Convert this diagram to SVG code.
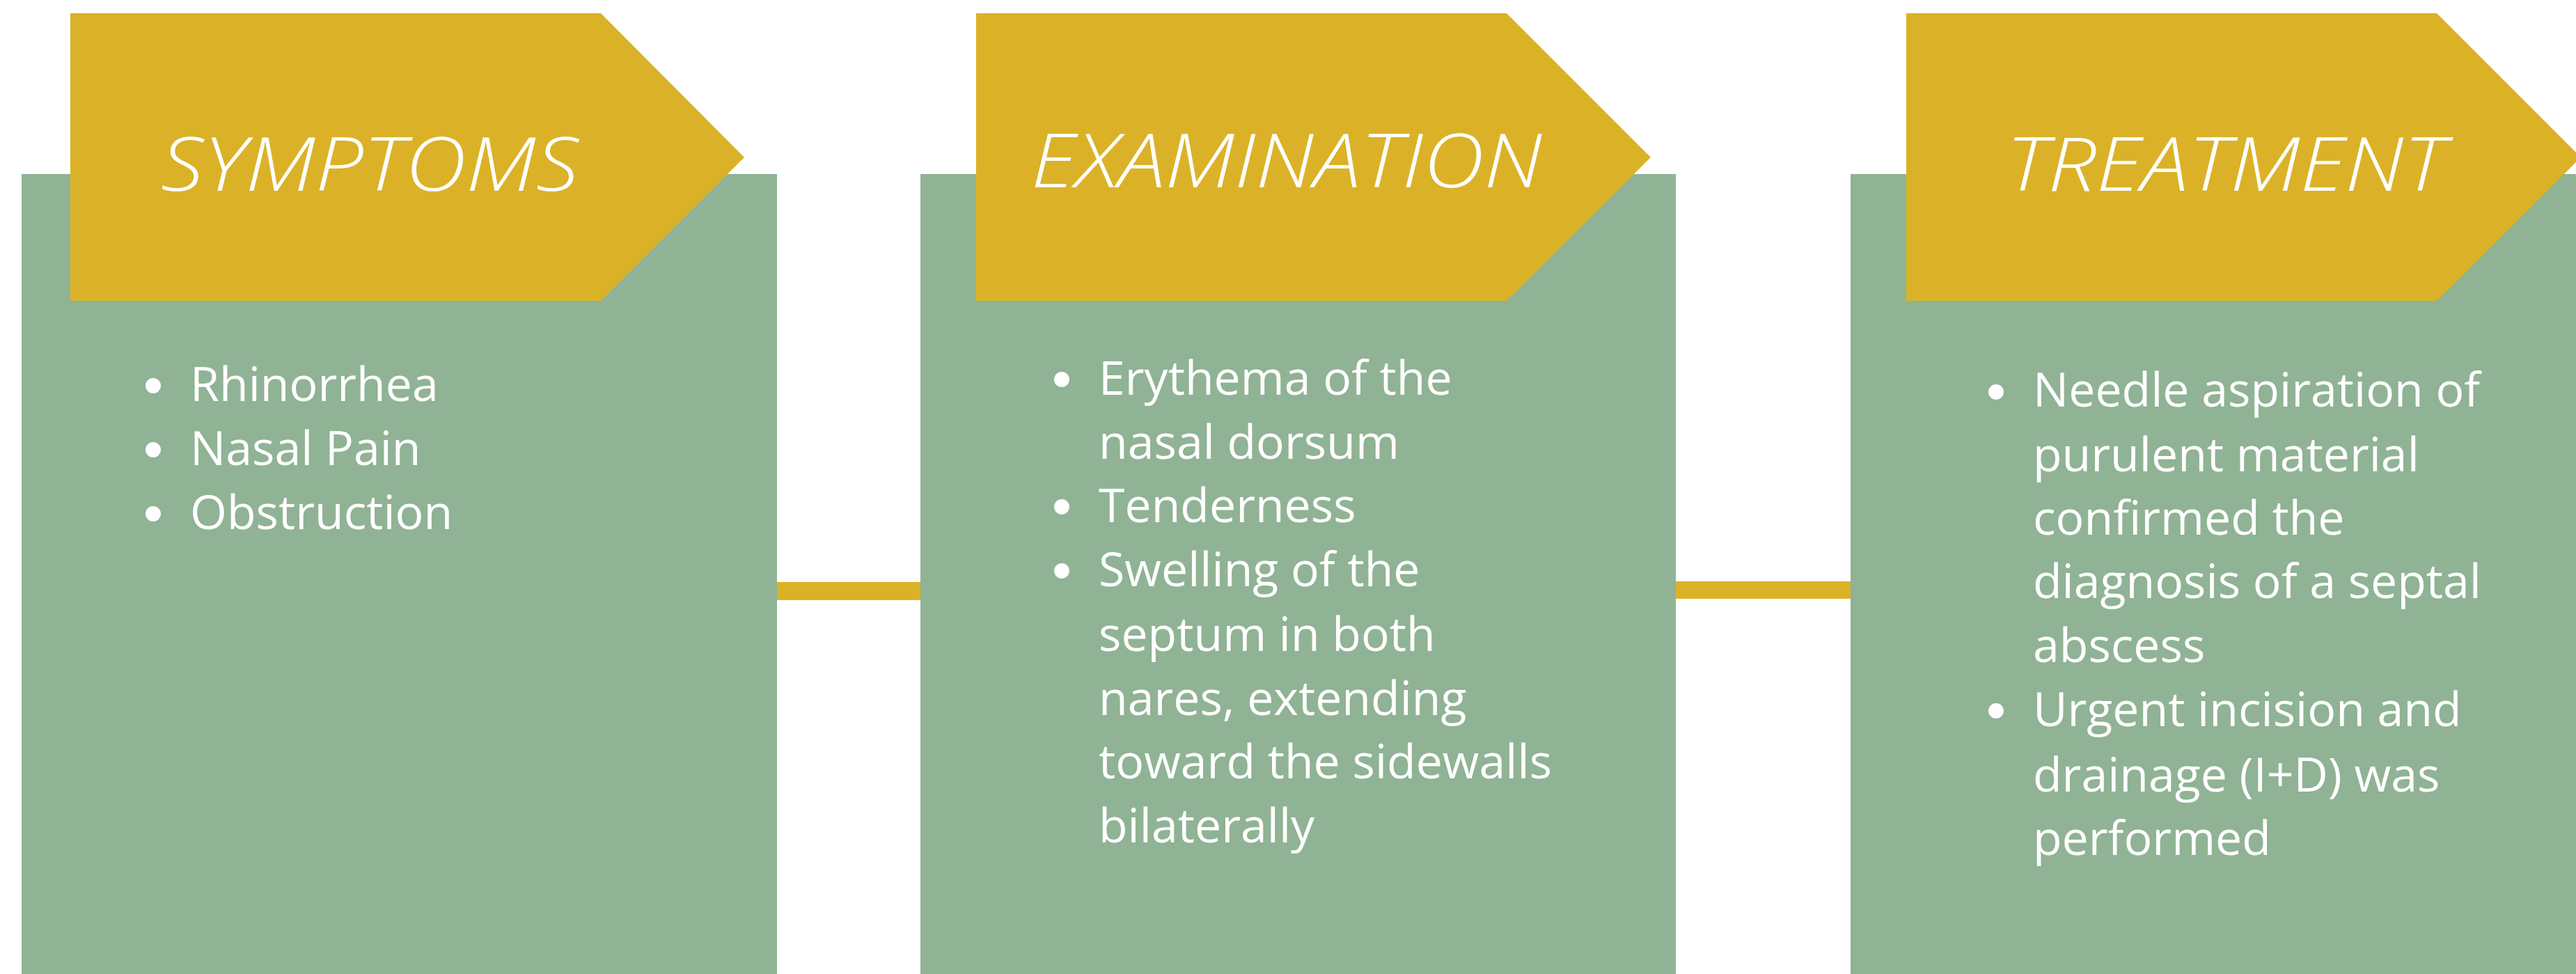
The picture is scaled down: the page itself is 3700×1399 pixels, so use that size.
<svg xmlns="http://www.w3.org/2000/svg" width="3700" height="1399" viewBox="0 0 3700 1399">
<style>
.panel{fill:#8FB394}
.tag{fill:#DBB227}
.bar{fill:#DBB227}
.head{font-family:"Open Sans","Liberation Sans",sans-serif;font-style:italic;font-weight:300;font-size:107px;fill:#FFFFFF;text-anchor:middle}
.body{font-family:"Open Sans","Liberation Sans",sans-serif;font-size:68px;fill:#FFFFFF}
.dot{fill:#FFFFFF}
</style>
<rect width="3700" height="1399" fill="#FFFFFF"/>
<g id="connectors">
<rect class="bar" x="1116" y="836" width="206" height="26"/>
<rect class="bar" x="2407" y="835" width="251" height="25"/>
</g>
<g id="symptoms">
<rect class="panel" x="31" y="250" width="1085" height="1149"/>
<polygon class="tag" points="101,19 863,19 1069,226 863,432 101,432"/>
<text class="head" x="531" y="274" textLength="600" lengthAdjust="spacingAndGlyphs">SYMPTOMS</text>
<circle class="dot" cx="220" cy="554" r="11"/>
<circle class="dot" cx="220" cy="646" r="11"/>
<circle class="dot" cx="220" cy="738" r="11"/>
<text class="body" x="273" y="576">Rhinorrhea</text>
<text class="body" x="273" y="668">Nasal Pain</text>
<text class="body" x="273" y="760">Obstruction</text>
</g>
<g id="examination">
<rect class="panel" x="1322" y="250" width="1085" height="1149"/>
<polygon class="tag" points="1402,19 2164,19 2371,226 2164,432 1402,432"/>
<text class="head" x="1848" y="269" textLength="734" lengthAdjust="spacingAndGlyphs">EXAMINATION</text>
<circle class="dot" cx="1525" cy="545" r="11"/>
<circle class="dot" cx="1525" cy="728" r="11"/>
<circle class="dot" cx="1525" cy="820" r="11"/>
<text class="body" x="1578" y="567">Erythema of the</text>
<text class="body" x="1578" y="659">nasal dorsum</text>
<text class="body" x="1578" y="750">Tenderness</text>
<text class="body" x="1578" y="842">Swelling of the</text>
<text class="body" x="1578" y="935">septum in both</text>
<text class="body" x="1578" y="1027">nares, extending</text>
<text class="body" x="1578" y="1118">toward the sidewalls</text>
<text class="body" x="1578" y="1210">bilaterally</text>
</g>
<g id="treatment">
<rect class="panel" x="2658" y="250" width="1100" height="1149"/>
<polygon class="tag" points="2738,19 3500,19 3707,226 3500,432 2738,432"/>
<text class="head" x="3197" y="274" textLength="631" lengthAdjust="spacingAndGlyphs">TREATMENT</text>
<circle class="dot" cx="2867" cy="563" r="11"/>
<circle class="dot" cx="2867" cy="1021" r="11"/>
<text class="body" x="2920" y="584">Needle aspiration of</text>
<text class="body" x="2920" y="677">purulent material</text>
<text class="body" x="2920" y="768">confirmed the</text>
<text class="body" x="2920" y="859">diagnosis of a septal</text>
<text class="body" x="2920" y="951">abscess</text>
<text class="body" x="2920" y="1043">Urgent incision and</text>
<text class="body" x="2920" y="1137">drainage (I+D) was</text>
<text class="body" x="2920" y="1228">performed</text>
</g>
</svg>
